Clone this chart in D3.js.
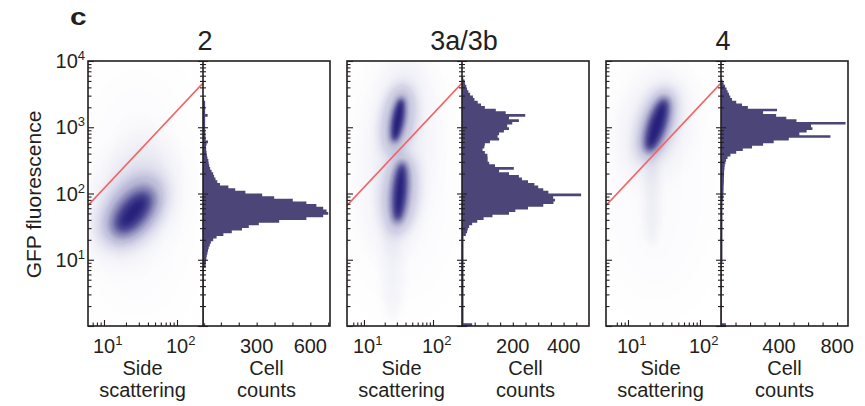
<!DOCTYPE html>
<html>
<head>
<meta charset="utf-8">
<script src="https://cdn.jsdelivr.net/npm/d3@7"></script>
<style>
  body { margin: 0; background: #fff; }
  text { font-family: "Liberation Sans", Arial, sans-serif; fill: #231f20; }
</style>
</head>
<body>
<div id="chart"></div>
<script>
// ---- data ----
const panelNames = ['2', '3a/3b', '4']
const sideRanges = [[6.04, 227], [5.68, 263], [4.95, 196]]
const sideTickValues = [7, 8, 9, 10, 20, 30, 40, 50, 60, 70, 80, 90, 100]
const sideLabels = [[10, 1], [100, 2]]
const gfpRange = [1, 10000]
const gfpLabels = [[10, 1], [100, 2], [1000, 3], [10000, 4]]
const countMax = [710, 500, 875]
const countStep = [100, 50, 100]
const countLabels = [[300, 600], [200, 400], [400, 800]]
const gateGfp = [66, 4650]   // gate line value at left / right edge of each scatter
const binWidth = 0.04        // histogram bin, in decades of GFP

// cell counts per bin, from 10^0 upwards
const counts2 = [12,
  5, 5, 5, 5, 5, 5, 5, 5, 5, 5, 5, 5, 5, 5, 5, 5, 5, 5, 5, 5, 5,
  15, 15, 17, 19, 21, 25, 28, 32, 38, 44,
  57, 76, 114, 161, 218, 256, 312, 426, 578, 672,
  700, 691, 672, 634, 578, 502, 398, 331, 237, 180,
  142, 95, 80, 70, 62, 57, 48, 40, 35, 32,
  30, 25, 22, 20, 18, 17, 20, 28, 15, 14,
  13, 12, 12, 12, 12, 12, 12, 26, 12, 12,
  12, 12, 12, 6]
const counts3 = [40,
  6, 6, 6, 6, 6, 6, 6, 6, 6, 6, 6, 6, 6, 6, 6, 6, 6, 6, 6, 6,
  6, 6, 6, 6, 6, 6, 6, 6, 6, 6, 6, 6, 6,
  15, 20, 23, 28, 40, 60, 85, 120, 185, 210,
  260, 320, 360, 366, 359, 469, 340, 320, 300, 285,
  260, 236, 224, 185, 146, 204, 130, 107, 101, 101,
  100, 90, 81, 88, 90, 110, 146, 140, 146, 165,
  185, 178, 198, 224, 185, 249, 172, 133, 90, 75,
  62, 49, 43, 32, 25, 20, 17, 12, 10, 5]
const counts4 = [34,
  5, 5, 5, 5, 5, 5, 5, 5, 5, 5, 5, 5, 5, 5, 5, 5, 5, 5, 5, 5, 5, 5, 5,
  10, 10, 10, 10, 10, 10, 10, 10, 10, 10, 10, 10, 10, 10, 10, 10, 10, 10, 10, 10, 10, 10, 10,
  15, 15, 16, 17, 18, 18, 19, 20, 20, 21, 21, 22,
  24, 26, 30, 35, 45, 65, 105, 150, 214, 290,
  363, 467, 754, 540, 590, 630, 620, 858, 520, 450,
  380, 290, 386, 185, 145, 105, 76, 64, 55, 46,
  38, 28, 18, 10]

// density clouds: [side scatter, GFP, spread side (dec), spread GFP (dec), tilt deg, density]
const cloud2 = [
  [28, 100, 0.75, 1.9, 0, 0.016],
  [30, 250, 0.35, 0.6, 20, 0.035],
  [24, 65, 0.45, 0.85, 30, 0.09],
  [25, 55, 0.29, 0.56, 38, 0.4],
  [25, 52, 0.17, 0.38, 40, 0.95]
]
const cloud3 = [
  [33, 200, 0.8, 2.0, 0, 0.014],
  [26, 7, 0.15, 0.75, 0, 0.04],
  [32, 400, 0.4, 1.5, 5, 0.06],
  [31, 1290, 0.2, 0.53, 10, 0.3],
  [33, 100, 0.22, 0.6, 5, 0.3],
  [31, 1290, 0.085, 0.33, 10, 0.95],
  [33, 105, 0.1, 0.45, 5, 0.95]
]
const cloud4 = [
  [24, 200, 0.76, 1.96, 0, 0.014],
  [21.5, 80, 0.11, 0.68, 0, 0.05],
  [24, 1000, 0.38, 0.8, 15, 0.08],
  [25, 1100, 0.2, 0.55, 18, 0.3],
  [25.2, 1080, 0.12, 0.42, 18, 0.95]
]
const histograms = [counts2, counts3, counts4]
const clouds = [cloud2, cloud3, cloud4]

// ---- layout ----
let width = 865, height = 406
let plotTop = 61, plotBottom = 326
let panelLeft = [88, 347, 606]
let scatterW = 115, histW = 127

let svg = d3.select('#chart').append('svg')
    .attr('width', width)
    .attr('height', height)
let defs = svg.append('defs')

let y = d3.scaleLog().domain(gfpRange).range([plotBottom, plotTop])

svg.append('text')
    .attr('transform', 'translate(70,25) scale(1.3,1)')
    .attr('font-size', 23)
    .attr('font-weight', 900)
    .text('c')

svg.append('text')
    .attr('transform', 'translate(41,' + ((plotTop + plotBottom) / 2 + 1) + ') rotate(-90)')
    .attr('text-anchor', 'middle')
    .attr('font-size', 21)
    .text('GFP fluorescence')

function power(sel, exp) {
    sel.append('tspan').text('10')
    sel.append('tspan').attr('dy', -8).attr('font-size', 13).text(exp)
}

function sizeTicks(g, isMajor, major, minor) {
    g.selectAll('.tick line').attr('x2', function(d) {
        let v = +d3.select(this).attr('x2')
        if (!v) return v
        return Math.sign(v) * (isMajor(d) ? major : minor)
    }).attr('y2', function(d) {
        let v = +d3.select(this).attr('y2')
        if (!v) return v
        return Math.sign(v) * (isMajor(d) ? major : minor)
    })
}

function styleAxis(g) {
    g.select('.domain').remove()
    g.selectAll('.tick text').remove()
    g.selectAll('.tick line').attr('stroke', '#231f20').attr('stroke-width', 1.1)
}

let isDecade = d => Math.abs(Math.log10(d) - Math.round(Math.log10(d))) < 1e-6

panelNames.forEach(function(name, k) {
    let left = panelLeft[k]
    let mid = left + scatterW
    let right = mid + histW

    let x = d3.scaleLog().domain(sideRanges[k]).range([left, mid])
    let xc = d3.scaleLinear().domain([0, countMax[k]]).range([mid, right])

    let g = svg.append('g')

    // clip for the scatter box
    defs.append('clipPath').attr('id', 'clip' + k)
        .append('rect')
        .attr('x', left).attr('y', plotTop)
        .attr('width', scatterW).attr('height', plotBottom - plotTop)

    // density cloud
    let cloud = g.append('g').attr('clip-path', 'url(#clip' + k + ')')
    clouds[k].forEach(function(b, j) {
        let cx = x(b[0]), cy = y(b[1])
        let rx = x(b[0] * Math.pow(10, b[2])) - cx
        let ry = cy - y(b[1] * Math.pow(10, b[3]))
        let id = 'blur' + k + '_' + j
        defs.append('filter').attr('id', id)
            .attr('x', '-100%').attr('y', '-100%').attr('width', '300%').attr('height', '300%')
            .append('feGaussianBlur').attr('stdDeviation', Math.min(rx, ry) * 0.45)
        cloud.append('ellipse')
            .attr('cx', cx).attr('cy', cy)
            .attr('rx', rx).attr('ry', ry)
            .attr('transform', 'rotate(' + b[4] + ',' + cx + ',' + cy + ')')
            .attr('fill', '#1d1876')
            .attr('fill-opacity', b[5])
            .attr('filter', 'url(#' + id + ')')
    })

    // gate line
    let line = d3.line().x(d => x(d[0])).y(d => y(d[1]))
    cloud.append('path')
        .datum([[sideRanges[k][0], gateGfp[0]], [sideRanges[k][1], gateGfp[1]]])
        .attr('d', line)
        .attr('fill', 'none')
        .attr('stroke', '#f26464')
        .attr('stroke-width', 1.7)

    // histogram as one step outline
    let counts = histograms[k]
    let p = d3.path()
    p.moveTo(xc(0), y(Math.pow(10, 0)))
    counts.forEach(function(c, i) {
        let lo = Math.pow(10, i * binWidth), hi = Math.pow(10, (i + 1) * binWidth)
        p.lineTo(xc(c), y(lo))
        p.lineTo(xc(c), y(hi))
    })
    p.lineTo(xc(0), y(Math.pow(10, counts.length * binWidth)))
    p.closePath()
    g.append('path').attr('d', p.toString()).attr('fill', '#4b4677')

    // frame
    g.append('rect')
        .attr('x', left).attr('y', plotTop)
        .attr('width', right - left).attr('height', plotBottom - plotTop)
        .attr('fill', 'none').attr('stroke', '#231f20').attr('stroke-width', 1.6)
    g.append('line')
        .attr('x1', mid).attr('x2', mid).attr('y1', plotTop).attr('y2', plotBottom)
        .attr('stroke', '#231f20').attr('stroke-width', 1.6)

    // y ticks: inside left edge, both sides of the divider
    let yTicks = y.ticks()
    let a1 = g.append('g').attr('transform', 'translate(' + left + ',0)')
        .call(d3.axisRight(y).tickValues(yTicks))
    styleAxis(a1); sizeTicks(a1, isDecade, 6, 3.5)
    let a2 = g.append('g').attr('transform', 'translate(' + mid + ',0)')
        .call(d3.axisLeft(y).tickValues(yTicks))
    styleAxis(a2); sizeTicks(a2, isDecade, 5, 3)
    let a3 = g.append('g').attr('transform', 'translate(' + mid + ',0)')
        .call(d3.axisRight(y).tickValues(yTicks))
    styleAxis(a3); sizeTicks(a3, isDecade, 5, 3)

    // bottom ticks, pointing up
    let a4 = g.append('g').attr('transform', 'translate(0,' + plotBottom + ')')
        .call(d3.axisTop(x).tickValues(sideTickValues))
    styleAxis(a4); sizeTicks(a4, isDecade, 6, 3.5)
    let cTicks = d3.range(countStep[k], countMax[k], countStep[k])
    let a5 = g.append('g').attr('transform', 'translate(0,' + plotBottom + ')')
        .call(d3.axisTop(xc).tickValues(cTicks))
    styleAxis(a5); sizeTicks(a5, () => true, 3.5, 3.5)

    // y labels only on the first panel
    if (k === 0) {
        gfpLabels.forEach(function(l) {
            let t = g.append('text')
                .attr('x', left - 3).attr('y', y(l[0]) + 7)
                .attr('text-anchor', 'end').attr('font-size', 20)
            power(t, l[1])
        })
    }

    sideLabels.forEach(function(l) {
        let t = g.append('text')
            .attr('x', x(l[0]) - 11).attr('y', 353)
            .attr('font-size', 20)
        power(t, l[1])
    })
    countLabels[k].forEach(function(v) {
        g.append('text')
            .attr('x', xc(v)).attr('y', 353)
            .attr('text-anchor', 'middle').attr('font-size', 20)
            .text(v)
    })

    let titles = [['Side', 'scattering', (left + mid) / 2 - 3], ['Cell', 'counts', (mid + right) / 2]]
    titles.forEach(function(tt) {
        g.append('text').attr('x', tt[2]).attr('y', 375)
            .attr('text-anchor', 'middle').attr('font-size', 20).text(tt[0])
        g.append('text').attr('x', tt[2]).attr('y', 397)
            .attr('text-anchor', 'middle').attr('font-size', 20).text(tt[1])
    })

    g.append('text')
        .attr('x', mid + 2).attr('y', 50)
        .attr('text-anchor', 'middle').attr('font-size', 27)
        .text(name)
})
</script>
</body>
</html>
